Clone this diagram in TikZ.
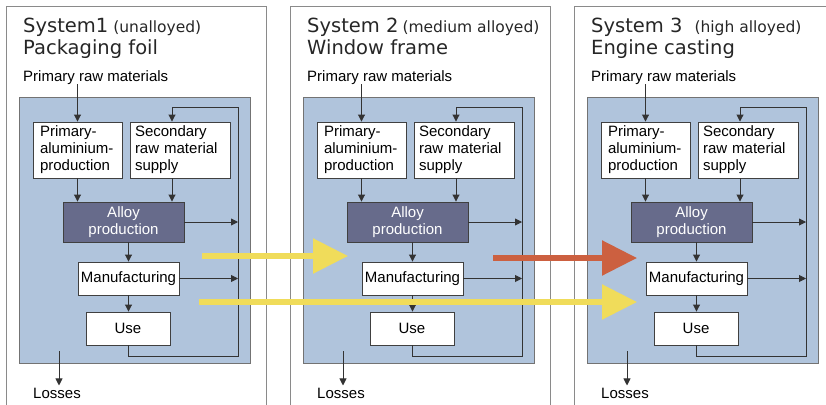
\documentclass[tikz,border=0pt]{standalone}
\usepackage{fontspec}
\setmainfont{Liberation Sans}
\newfontfamily\titlefont{DejaVu Sans}
\usetikzlibrary{arrows.meta}
\definecolor{panel}{HTML}{B0C4DC}
\definecolor{alloyfill}{HTML}{676B8B}
\definecolor{flowyellow}{HTML}{F0DC5A}
\definecolor{flowred}{HTML}{CC6040}
\definecolor{frame}{HTML}{8A8A8A}
\tikzset{
  sysframe/.style={draw=frame, line width=1pt},
  panelbox/.style={fill=panel, draw=black!55, line width=1pt},
  stepbox/.style={draw=black!75, fill=white, line width=0.9pt, inner sep=0pt,
    font=\fontsize{15}{17}\selectfont},
  leftbox/.style={stepbox, align=left, minimum height=56pt},
  alloybox/.style={stepbox, fill=alloyfill, text=white, align=center},
  flow/.style={draw=black!80, line width=0.9pt, -{Triangle[length=7pt,width=7pt]}},
  bigflow/.style={line width=5.5pt, -{Triangle[length=35pt,width=34pt]}},
  titletext/.style={anchor=base west, inner sep=0pt, text=black!85,
    font=\titlefont\fontsize{19.5}{24}\selectfont},
  labeltext/.style={inner sep=0pt, font=\fontsize{15}{17}\selectfont},
}
\begin{document}
\begin{tikzpicture}[x=1pt,y=-1pt]
\clip (0,0) rectangle (826,404);
\foreach \dx/\n/\sysname/\gap/\kind/\prod in
  {0/1/System1/5/{(unalloyed)}/Packaging foil,
   284/2/System 2/4/{(medium alloyed)}/Window frame,
   568/3/System 3/12/{(high alloyed)}/Engine casting}{
\begin{scope}[xshift=\dx pt]
% frame and panel
\draw[sysframe] (6,410) |- (266,7) -- (266,410);
\draw[panelbox] (19,97) rectangle (250,363);
\node[titletext] (sys\n) at (23,33) {\sysname\hspace{\gap pt}{\fontsize{15.5}{17}\selectfont\kind}};
\node[titletext] (prod\n) at (23,55) {\prod};
\node[labeltext, anchor=base west] (raw\n) at (23,81) {Primary raw materials};
% process boxes
\node[leftbox, minimum width=89pt, text width=75pt] (prim\n) at (77.5,150)
  {Primary-\\aluminium-\\production};
\node[leftbox, minimum width=100pt, text width=90pt] (sec\n) at (180,150)
  {Secondary\\raw material\\supply};
\node[alloybox, minimum width=121pt, minimum height=40pt] (alloy\n) at (123.5,222)
  {Alloy\\production};
\node[stepbox, minimum width=101pt, minimum height=33pt] (manu\n) at (128.5,278.5) {Manufacturing};
\node[stepbox, minimum width=84pt, minimum height=33pt] (use\n) at (128,328.5) {Use};
\node[labeltext, anchor=base, inner sep=2pt] (loss\n) at (57,398) {Losses};
\coordinate (loop\n) at (238,107);
\coordinate (fb\n) at (172,107);
\coordinate (out\n) at (59,351);
% connectors
\draw[flow] (prim\n.north |- raw\n.south) -- (prim\n.north);
\draw[flow] (prim\n.south) -- (prim\n.south |- alloy\n.north);
\draw[flow] (fb\n |- sec\n.south) -- (fb\n |- alloy\n.north);
\draw[flow] (manu\n.north |- alloy\n.south) -- (manu\n.north);
\draw[flow] (manu\n.south) -- (manu\n.south |- use\n.north);
\draw[flow] (alloy\n.east) -- (alloy\n.east -| loop\n);
\draw[flow] (manu\n.east) -- (manu\n.east -| loop\n);
\draw[flow] (use\n.south) -- ++(0,11) -| (loop\n) -| (fb\n |- sec\n.north);
\draw[flow] (out\n) -- (loss\n.north -| out\n);
\end{scope}}
% transfer between systems
\coordinate (ya) at (202,256);
\coordinate (yb) at (348,256);
\coordinate (ra) at (493,258);
\coordinate (rb) at (637,258);
\coordinate (yc) at (199,302);
\coordinate (yd) at (637,302);
\draw[bigflow, draw=flowyellow, fill=flowyellow] (ya) -- (yb);
\draw[bigflow, draw=flowred, fill=flowred] (ra) -- (rb);
\draw[bigflow, draw=flowyellow, fill=flowyellow] (yc) -- (yd);
\end{tikzpicture}
\end{document}
